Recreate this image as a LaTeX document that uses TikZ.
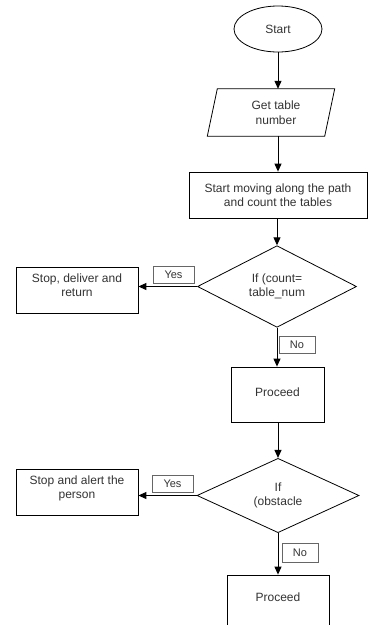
\documentclass[tikz,border=0pt]{standalone}
\usepackage{fontspec}
\setmainfont{Liberation Sans}
\usetikzlibrary{shapes.geometric,arrows.meta}
\begin{document}
\begin{tikzpicture}[x=1pt,y=-1pt,
  every node/.style={font=\fontsize{12}{14.5}\selectfont, text=black!80, align=center, inner sep=0pt},
  box/.style={draw=black, line width=0.8pt, rectangle},
  dec/.style={draw=black, line width=0.8pt, diamond},
  tag/.style={draw=black!60, line width=0.6pt, rectangle, font=\fontsize{11}{13}\selectfont},
  arr/.style={draw=black, line width=1pt, -{Triangle[length=8pt,width=7pt]}}
]
\useasboundingbox (0,0) rectangle (368,625);
\fill[white] (0,0) rectangle (368,625);

\node[draw=black, line width=0.8pt, ellipse, minimum width=88pt, minimum height=46pt] (start) at (278,29) {Start};

\node (get) at (271,112.5) [minimum width=117pt, minimum height=47pt] {\hspace*{10pt}Get table\\\hspace*{10pt}number};
\draw[line width=0.8pt] ([xshift=5pt]get.north west) -- ([xshift=5pt]get.north east)
  -- ([xshift=-5pt]get.south east) -- ([xshift=-5pt]get.south west) -- cycle;

\node[box, minimum width=178pt, minimum height=46pt] (move) at (278,195) {Start moving along the path\\and count the tables};

\node[dec, minimum width=159pt, minimum height=71pt] (d1) at (277,286.5) {If (count=\\table\_num};

\node[box, minimum width=122pt, minimum height=46pt, text depth=10pt] (stop1) at (77,290) {Stop, deliver and\\return};
\node[tag, minimum width=41pt, minimum height=17pt] (yes1) at (173.5,274.5) {Yes};
\node[tag, minimum width=36pt, minimum height=17pt] (no1) at (297,344.5) {No};

\node[box, minimum width=93pt, minimum height=55pt, text depth=5pt] (p1) at (277.5,394.5) {Proceed};

\node[dec, minimum width=162pt, minimum height=71pt] (d2) at (278,495.5) {If\\(obstacle};

\node[box, minimum width=122pt, minimum height=46pt, text depth=10pt] (stop2) at (77,492) {Stop and alert the\\person};
\node[tag, minimum width=41pt, minimum height=17pt] (yes2) at (172.5,483.5) {Yes};
\node[tag, minimum width=36pt, minimum height=19pt] (no2) at (300,552.5) {No};

\node[box, minimum width=102pt, minimum height=60pt, text depth=16pt] (p2) at (278,605) {Proceed};

\draw[arr] (start.south) -- (start.south |- get.north);
\draw[arr] (start.south |- get.south) -- (start.south |- move.north);
\draw[arr] (d1.north |- move.south) -- (d1.north);
\draw[arr] (d1.west) -- (d1.west -| stop1.east);
\draw[arr] (d1.south) -- (d1.south |- p1.north);
\draw[arr] (d2.north |- p1.south) -- (d2.north);
\draw[arr] (d2.west) -- (d2.west -| stop2.east);
\draw[arr] (d2.south) -- (d2.south |- p2.north);
\end{tikzpicture}
\end{document}
